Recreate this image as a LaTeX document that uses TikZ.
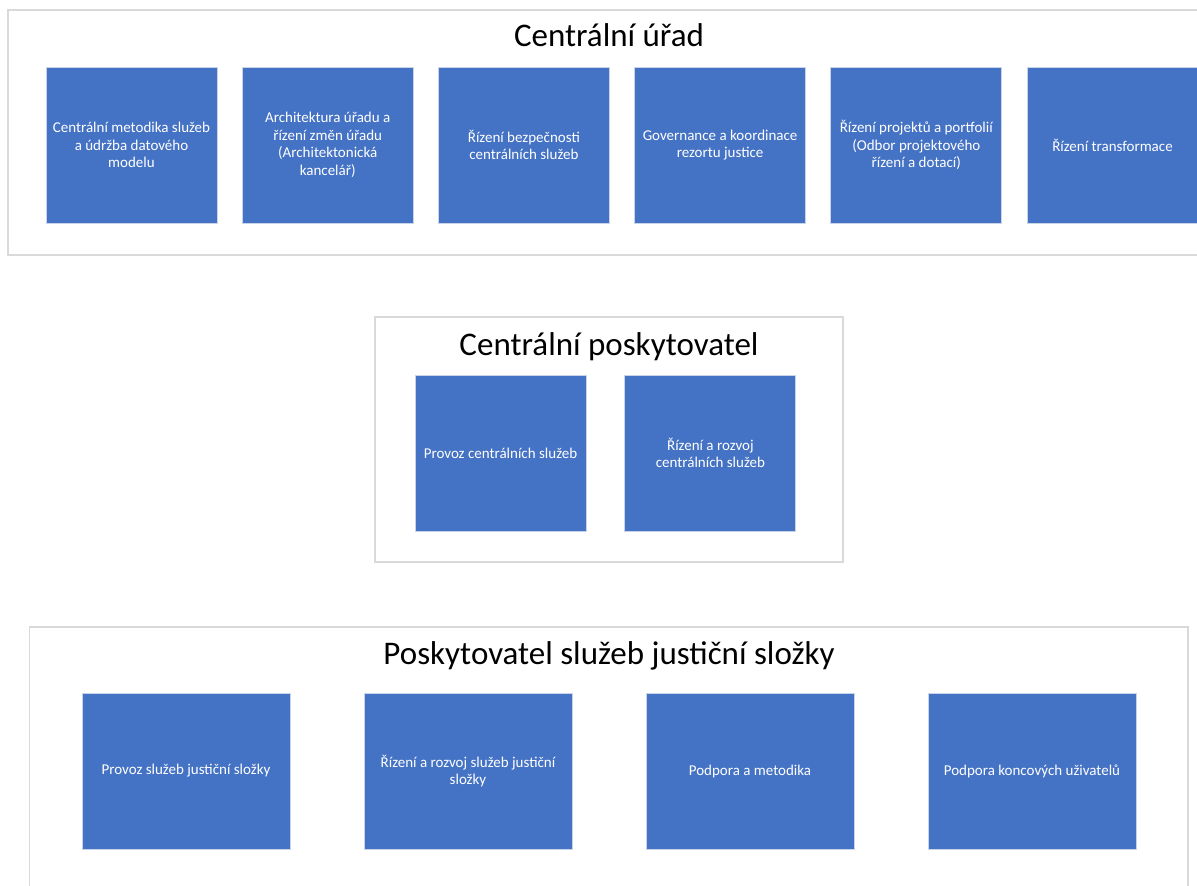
\documentclass[tikz,border=0pt]{standalone}
\usepackage{fontspec}
\setmainfont{Carlito}
\definecolor{unitblue}{HTML}{4472C4}
\definecolor{unitedge}{HTML}{C9D3E8}
\definecolor{grpline}{HTML}{D9D9D9}

\begin{document}
\begin{tikzpicture}[x=1pt, y=-1pt,
    unit/.style={rectangle, draw=unitedge, line width=1pt, fill=unitblue, text=white, align=center,
      minimum width=171pt, minimum height=156pt, inner sep=2pt, font=\fontsize{15}{17.5}\selectfont},
    wideunit/.style={unit, minimum width=208pt},
    group/.style={draw=grpline, line width=1.5pt},
    grouptitle/.style={anchor=base, font=\fontsize{33}{40}\selectfont}]
  \clip (0,0) rectangle (1197,886);
  \fill[white] (0,0) rectangle (1197,886);

  % Centrální úřad
  \draw[group] (8,10) rectangle (1220,255);
  \node[grouptitle] (cu) at (609,46) {Centrální úřad};
  \node[unit] (u1) at (131.5,145) {Centrální metodika služeb\\a údržba datového\\modelu};
  \node[unit] (u2) at (327.7,145) {Architektura úřadu a\\řízení změn úřadu\\(Architektonická\\kancelář)};
  \node[unit] (u3) at (523.9,145) {Řízení bezpečnosti\\centrálních služeb};
  \node[unit] (u4) at (720.1,145) {Governance a koordinace\\rezortu justice};
  \node[unit] (u5) at (916.3,145) {Řízení projektů a portfolií\\(Odbor projektového\\řízení a dotací)};
  \node[unit] (u6) at (1112.5,145) {Řízení transformace};

  % Centrální poskytovatel
  \draw[group] (375,317) rectangle (843,562);
  \node[grouptitle] (cp) at (609,355) {Centrální poskytovatel};
  \node[unit] (p1) at (500.5,453) {Provoz centrálních služeb};
  \node[unit] (p2) at (710.4,453) {Řízení a rozvoj\\centrálních služeb};

  % Poskytovatel služeb justiční složky
  \draw[group] (29.5,627) rectangle (1188,910);
  \node[grouptitle] (ps) at (609,664) {Poskytovatel služeb justiční složky};
  \node[wideunit] (j1) at (186,771) {Provoz služeb justiční složky};
  \node[wideunit] (j2) at (468,771) {Řízení a rozvoj služeb justiční\\složky};
  \node[wideunit] (j3) at (750,771) {Podpora a metodika};
  \node[wideunit] (j4) at (1032,771) {Podpora koncových uživatelů};
\end{tikzpicture}
\end{document}
